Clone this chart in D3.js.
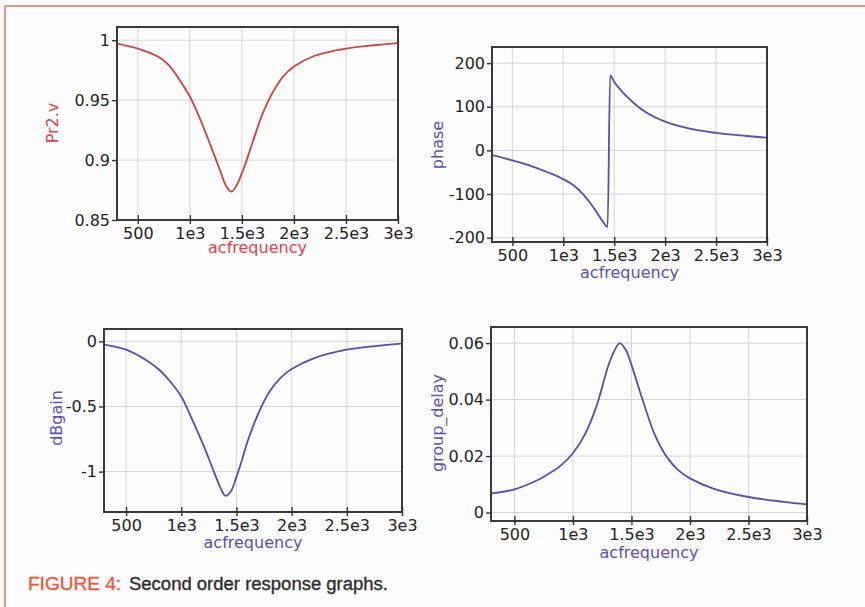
<!DOCTYPE html>
<html>
<head>
<meta charset="utf-8">
<script src="https://cdn.jsdelivr.net/npm/d3@7"></script>
<style>
  body { margin: 0; background: #fdfdfd; }
  svg { display: block; }
  .axis text { font-family: 'DejaVu Sans', sans-serif; font-size: 16px; fill: #222; }
  .axis path { display: none; }
  .axis line { stroke: #333; stroke-width: 1.4; }
  .grid line { stroke: #d4d4d4; stroke-width: 1; }
  .frame { fill: none; stroke: #3a3a3a; stroke-width: 2; }
  .label { font-family: 'DejaVu Sans', sans-serif; font-size: 16px; }
  .line { fill: none; stroke-width: 1.8; }
  .caption { font-family: 'Liberation Sans', Arial, sans-serif; font-size: 18px; stroke-width: 0.35; }
</style>
</head>
<body>
<svg width="865" height="607"></svg>
<script>
// frequencies (Hz)
var freq = [300, 500, 700, 800, 900, 1000, 1100, 1200, 1300, 1350, 1400, 1450, 1500, 1550, 1600, 1700, 1800, 1900, 2000, 2200, 2500, 2800, 3000];
var pr2v = [0.9972, 0.993, 0.986, 0.979, 0.967, 0.953, 0.934, 0.912, 0.889, 0.878, 0.8736, 0.879, 0.889, 0.901, 0.914, 0.939, 0.957, 0.970, 0.978, 0.987, 0.993, 0.996, 0.9976];
var dbGain = [-0.025, -0.064, -0.154, -0.218, -0.308, -0.423, -0.602, -0.795, -1.01, -1.115, -1.185, -1.15, -1.04, -0.91, -0.77, -0.55, -0.385, -0.28, -0.212, -0.13, -0.064, -0.033, -0.018];
var groupDelay = [0.00675, 0.0082, 0.0115, 0.0139, 0.0168, 0.021, 0.0275, 0.0375, 0.0517, 0.057, 0.060, 0.0577, 0.0523, 0.0458, 0.0393, 0.0275, 0.0198, 0.015, 0.0121, 0.0085, 0.0055, 0.0038, 0.0029];

var phaseFreq = [300, 500, 700, 800, 900, 1000, 1100, 1200, 1300, 1350, 1400, 1435, 1460, 1500, 1550, 1600, 1650, 1700, 1800, 1900, 2000, 2200, 2500, 2800, 3000];
var phase = [-11, -23, -37, -46, -55, -66, -80, -102, -132, -150, -167, -176, 172, 157, 142, 129, 118, 107, 89, 76, 66, 52, 40, 33, 29];

var xTicks = [500, 1000, 1500, 2000, 2500, 3000];
var xTickLabels = ['500', '1e3', '1.5e3', '2e3', '2.5e3', '3e3'];
var pr2Ticks = [0.85, 0.9, 0.95, 1];
var phaseTicks = [-200, -100, 0, 100, 200];
var dbTicks = [-1, -0.5, 0];
var delayTicks = [0, 0.02, 0.04, 0.06];

var red = '#c8453f';
var purple = '#5a4fa3';

var panels = [
  {left: 117, top: 27, right: 398, bottom: 220, xs: freq, ys: pr2v, yDomain: [0.85, 1.011], yTicks: pr2Ticks,
    name: 'Pr2.v', color: red, labelColor: '#e2404a', yLabel: [52, 123], xLabelY: 253, curve: d3.curveCatmullRom.alpha(0.5)},
  {left: 492, top: 47, right: 767, bottom: 242, xs: phaseFreq, ys: phase, yDomain: [-210, 237], yTicks: phaseTicks,
    name: 'phase', color: purple, labelColor: '#5b4fae', yLabel: [437, 145], xLabelY: 278, curve: d3.curveMonotoneX},
  {left: 104, top: 329, right: 402, bottom: 512, xs: freq, ys: dbGain, yDomain: [-1.31, 0.095], yTicks: dbTicks,
    name: 'dBgain', color: purple, labelColor: '#5b4fae', yLabel: [56, 418], xLabelY: 548, curve: d3.curveCatmullRom.alpha(0.5)},
  {left: 491, top: 327, right: 807, bottom: 521, xs: freq, ys: groupDelay, yDomain: [-0.003, 0.0657], yTicks: delayTicks,
    name: 'group_delay', color: purple, labelColor: '#5b4fae', yLabel: [437, 423], xLabelY: 558, curve: d3.curveCatmullRom.alpha(0.5)}
];

var svg = d3.select('svg');

// page border (top and left rule)
svg.append('line')
  .attr('x1', 5).attr('x2', 865).attr('y1', 6).attr('y2', 6)
  .attr('stroke', '#e8735a').attr('stroke-width', 1.5);
svg.append('line')
  .attr('x1', 5).attr('x2', 5).attr('y1', 6).attr('y2', 607)
  .attr('stroke', '#e8735a').attr('stroke-width', 1.5);

panels.forEach(function(p, k) {
  var w = p.right - p.left;
  var h = p.bottom - p.top;
  var x = d3.scaleLinear().domain([300, 3000]).range([0, w]);
  var y = d3.scaleLinear().domain(p.yDomain).range([h, 0]);
  var g = svg.append('g').attr('transform', 'translate(' + p.left + ',' + p.top + ')');

  // grid
  var grid = g.append('g').attr('class', 'grid');
  grid.selectAll('.gx').data(xTicks).enter().append('line')
    .attr('x1', d => x(d)).attr('x2', d => x(d))
    .attr('y1', 0).attr('y2', h);
  grid.selectAll('.gy').data(p.yTicks).enter().append('line')
    .attr('x1', 0).attr('x2', w)
    .attr('y1', d => y(d)).attr('y2', d => y(d));

  g.append('defs').append('clipPath')
    .attr('id', 'clip' + k)
    .append('rect').attr('width', w).attr('height', h);

  var line = d3.line()
    .curve(p.curve)
    .x(function(d, i) { return x(p.xs[i]); })
    .y(function(d) { return y(d); });

  g.append('path')
    .datum(p.ys)
    .attr('class', 'line')
    .attr('clip-path', 'url(#clip' + k + ')')
    .attr('stroke', p.color)
    .attr('d', line);

  g.append('rect').attr('class', 'frame').attr('width', w).attr('height', h);

  var xAxis = g.append('g')
    .attr('class', 'axis')
    .attr('transform', 'translate(0,' + h + ')')
    .call(d3.axisBottom(x).tickValues(xTicks)
      .tickFormat(function(d, i) { return xTickLabels[i]; })
      .tickSize(4).tickPadding(4));
  xAxis.selectAll('.tick line').attr('y1', -5);

  g.append('g')
    .attr('class', 'axis')
    .call(d3.axisLeft(y).tickValues(p.yTicks)
      .tickFormat(d => String(d))
      .tickSize(5).tickPadding(2));

  svg.append('text')
    .attr('class', 'label')
    .attr('text-anchor', 'middle')
    .attr('x', (p.left + p.right) / 2)
    .attr('y', p.xLabelY)
    .attr('fill', p.labelColor)
    .text('acfrequency');

  svg.append('text')
    .attr('class', 'label')
    .attr('text-anchor', 'middle')
    .attr('dy', '0.35em')
    .attr('transform', 'translate(' + p.yLabel[0] + ',' + p.yLabel[1] + ') rotate(-90)')
    .attr('fill', p.labelColor)
    .text(p.name);
});

// caption, squeezed to look like the condensed print face
svg.append('text')
  .attr('class', 'caption')
  .attr('x', 28).attr('y', 590)
  .attr('textLength', 93).attr('lengthAdjust', 'spacingAndGlyphs')
  .attr('fill', '#f05538').attr('stroke', '#f05538')
  .text('FIGURE 4:');
svg.append('text')
  .attr('class', 'caption')
  .attr('x', 129).attr('y', 590)
  .attr('textLength', 259).attr('lengthAdjust', 'spacingAndGlyphs')
  .attr('fill', '#2e2e2e').attr('stroke', '#2e2e2e')
  .text('Second order response graphs.');
</script>
</body>
</html>
